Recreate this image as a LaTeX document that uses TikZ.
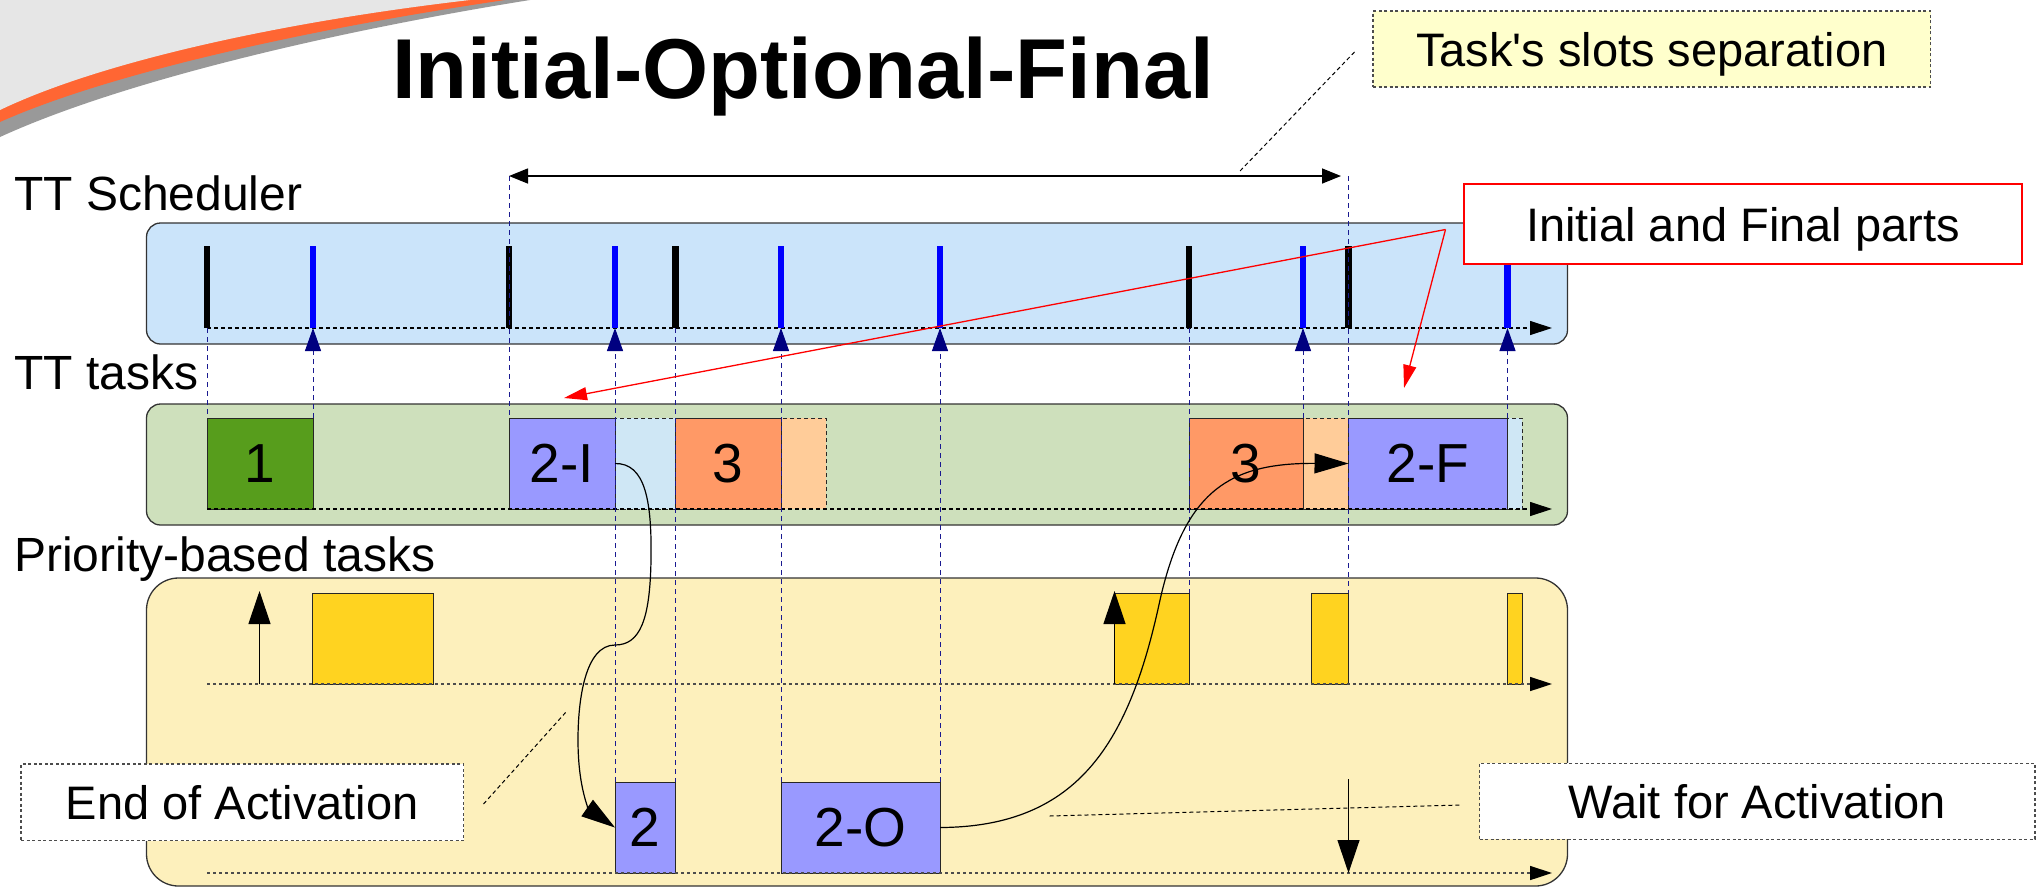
\documentclass[tikz,border=0pt]{standalone}
\usepackage{fontspec}
\setmainfont{Liberation Sans}[Ligatures=TeXOff]
\usetikzlibrary{arrows.meta}

\definecolor{schedbg}{HTML}{CBE4FA}
\definecolor{ttbg}{HTML}{CEE0BC}
\definecolor{priobg}{HTML}{FDF0BC}
\definecolor{taskgreen}{HTML}{579D1C}
\definecolor{tasklav}{HTML}{9999FF}
\definecolor{taskorange}{HTML}{FF9966}
\definecolor{slotorange}{HTML}{FFCC99}
\definecolor{slotblue}{HTML}{CFE7F5}
\definecolor{gold}{HTML}{FFD320}
\definecolor{notebg}{HTML}{FFFFCC}
\definecolor{swooshgray}{HTML}{E6E6E6}
\definecolor{swooshorange}{HTML}{FF6633}
\definecolor{swooshdark}{HTML}{999999}
\definecolor{tickblue}{HTML}{0000FF}
\definecolor{guide}{HTML}{1A1A90}
\definecolor{guidetip}{HTML}{000080}

\newcommand\tfTitle{\fontsize{85}{96}\selectfont\bfseries}
\newcommand\tfLane{\fontsize{48}{56}\selectfont}
\newcommand\tfNote{\fontsize{47}{54}\selectfont}
\newcommand\tfTask{\fontsize{55}{62}\selectfont}

\begin{document}
\begin{tikzpicture}[x=1pt,y=-1pt,
  lane/.style={draw=black!80, line width=1.3pt, inner sep=0pt, outer sep=0pt,
    anchor=north west, minimum width=1421pt, rounded corners=14pt},
  taskbox/.style={draw=black!85, line width=1pt, inner sep=0pt, outer sep=0pt,
    anchor=north west, minimum height=91pt, font=\tfTask},
  slotbox/.style={taskbox, dash pattern=on 4pt off 3pt},
  goldbox/.style={taskbox, fill=gold},
  notebox/.style={draw=black!70, line width=1.2pt, dash pattern=on 3pt off 2.5pt,
    inner sep=0pt, outer sep=0pt, anchor=north west, font=\tfNote, fill=white,
    text height=34pt, text depth=0pt},
  lanelabel/.style={anchor=base west, inner sep=0pt, font=\tfLane},
  axisline/.style={draw=black, line width=1.2pt, dash pattern=on 4pt off 3pt,
    -{Triangle[length=22pt,width=14pt]}},
  prioaxis/.style={draw=black!70, line width=1.5pt, dash pattern=on 3pt off 3pt,
    -{Triangle[length=22pt,width=14pt,color=black]}},
  blacktick/.style={draw=black, line width=6.5pt},
  bluetick/.style={draw=tickblue, line width=6.5pt},
  guideline/.style={draw=guide, line width=1pt, dash pattern=on 5pt off 4pt},
  guidearrow/.style={guideline, -{Triangle[length=23pt,width=16pt,color=guidetip]}},
  flow/.style={draw=black, line width=1.2pt, -{Triangle[length=34pt,width=20pt]}},
  bigarrow/.style={draw=black, line width=1.2pt, -{Triangle[length=33pt,width=22pt]}},
  leader/.style={draw=black, line width=1pt, dash pattern=on 4pt off 3pt},
  redarrow/.style={draw=red, line width=1.3pt, -{Triangle[length=23pt,width=13pt]}},
  slotspan/.style={draw=black, line width=1.5pt,
    {Triangle[length=19pt,width=15pt]}-{Triangle[length=19pt,width=15pt]}}
]
\useasboundingbox (0,0) rectangle (2037,887);

% corner swoosh
\fill[swooshdark] (0,0) -- (0,137) .. controls (120,82) and (330,32) .. (530,0) -- cycle;
\fill[swooshorange] (0,0) -- (0,122) .. controls (112,72) and (315,28) .. (505,0) -- cycle;
\fill[swooshgray] (0,0) -- (0,110) .. controls (100,62) and (280,22) .. (470,0) -- cycle;

% title and lane captions
\node[anchor=base, inner sep=0pt, font=\tfTitle] (title) at (803,98) {Initial-Optional-Final};
\node[lanelabel] (lblSched) at (14,210) {TT Scheduler};
\node[lanelabel] (lblTT) at (14,389) {TT tasks};
\node[lanelabel] (lblPrio) at (14,571) {Priority-based tasks};

% lanes
\node[lane, fill=schedbg, minimum height=121pt] (sched) at (146.5,223) {};
\node[lane, fill=ttbg, minimum height=121pt] (tt) at (146.5,404) {};
\node[lane, fill=priobg, minimum height=308pt, rounded corners=32pt] (prio) at (146.5,578) {};

% scheduler instants (bottom ends of the ticks)
\coordinate (kA) at (207,328);
\coordinate (kB) at (313,328);
\coordinate (kC) at (509,328);
\coordinate (kD) at (615,328);
\coordinate (kE) at (675.5,328);
\coordinate (kF) at (781,328);
\coordinate (kG) at (940,328);
\coordinate (kH) at (1189,328);
\coordinate (kI) at (1303,328);
\coordinate (kJ) at (1348.5,328);
\coordinate (kK) at (1507.5,328);

% time-triggered slots
\node[slotbox, fill=slotblue, minimum width=60.5pt] (rest2a) at (615,418) {};
\node[slotbox, fill=slotorange, minimum width=45pt] (rest3a) at (781,418) {};
\node[taskbox, fill=taskgreen, minimum width=106pt] (task1) at (207,418) {1};
\node[taskbox, fill=tasklav, minimum width=106pt] (task2i) at (509,418) {2-I};
\node[taskbox, fill=taskorange, minimum width=105.5pt] (task3a) at (675.5,418) {3};
\node[slotbox, fill=slotorange, minimum width=45.5pt] (rest3b) at (1303,418) {};
\node[slotbox, fill=slotblue, minimum width=14.5pt] (rest2b) at (1507.5,418) {};
\node[taskbox, fill=taskorange, minimum width=114pt] (task3b) at (1189,418) {3};
\node[taskbox, fill=tasklav, minimum width=159pt] (task2f) at (1348.5,418) {2-F};

% priority-based jobs
\node[goldbox, minimum width=121pt] (gold1) at (312.5,593) {};
\node[goldbox, minimum width=74.5pt] (gold2) at (1114.5,593) {};
\node[goldbox, minimum width=37.5pt] (gold3) at (1311,593) {};
\node[goldbox, minimum width=15.5pt] (gold4) at (1507,593) {};
\node[taskbox, fill=tasklav, minimum width=60.5pt] (job2) at (615,782) {2};
\node[taskbox, fill=tasklav, minimum width=159pt] (job2o) at (781,782) {2-O};

% time axes
\coordinate (schedEnd) at (1552,328);
\coordinate (ttEnd) at (1552,509);
\coordinate (prioStart) at (207,684);
\coordinate (prioEnd) at (1552,684);
\coordinate (waitStart) at (207,873);
\coordinate (waitEnd) at (1552,873);
\draw[axisline] (kA) -- (schedEnd);
\draw[axisline] (task1.south west) -- (ttEnd);
\draw[prioaxis] (prioStart) -- (prioEnd);
\draw[prioaxis] (waitStart) -- (waitEnd);

% scheduler ticks
\draw[blacktick] (kA) -- ++(0,-82);
\draw[bluetick] (kB) -- ++(0,-82);
\draw[blacktick] (kC) -- ++(0,-82);
\draw[bluetick] (kD) -- ++(0,-82);
\draw[blacktick] (kE) -- ++(0,-82);
\draw[bluetick] (kF) -- ++(0,-82);
\draw[bluetick] (kG) -- ++(0,-82);
\draw[blacktick] (kH) -- ++(0,-82);
\draw[bluetick] (kI) -- ++(0,-82);
\draw[blacktick] (kJ) -- ++(0,-82);
\draw[bluetick] (kK) -- ++(0,-82);

% guide lines between lanes
\coordinate (sepL) at (509,176);
\coordinate (sepR) at (1348.5,176);
\draw[guideline] (kA) -- (task1.north west);
\draw[guidearrow] (task1.north east) -- (kB);
\draw[guideline] (sepL) -- (task2i.north west);
\draw[guidearrow] (job2.north west) -- (kD);
\draw[guideline] (kE) -- (job2.north east);
\draw[guidearrow] (job2o.north west) -- (kF);
\draw[guidearrow] (job2o.north east) -- (kG);
\draw[guideline] (kH) -- (gold2.north east);
\draw[guidearrow] (task3b.north east) -- (kI);
\draw[guideline] (sepR) -- (gold3.north east);
\draw[guidearrow] (task2f.north east) -- (kK);

% slot separation span
\draw[slotspan, shorten >=7.5pt] (sepL) -- (sepR);

% activations in the priority lane
\coordinate (rel1) at (259.5,684);
\coordinate (rel1top) at (259.5,591);
\draw[bigarrow] (rel1) -- (rel1top);
\coordinate (rel2top) at (1114.5,591);
\draw[bigarrow] (gold2.south west) -- (rel2top);
\coordinate (waitTop) at (1348.5,779);
\coordinate (waitTip) at (1348.5,873);
\draw[bigarrow] (waitTop) -- (waitTip);

% control flow between parts of task 2
\draw[flow] (task2i.east) .. controls (645,463) and (652,500) .. (651,560)
  .. controls (650,620) and (640,645) .. (615,645)
  .. controls (585,645) and (578,700) .. (578,740)
  .. controls (578,790) and (590,810) .. (job2.west);
\draw[flow] (job2o.east) .. controls (1080,827) and (1130,740) .. (1160,600)
  .. controls (1185,490) and (1230,463) .. (task2f.west);

% notes
\node[notebox, fill=notebg, minimum width=557.5pt, minimum height=76pt] (slotnote) at (1373,11) {Task's slots separation};
\node[notebox, minimum width=442.5pt, minimum height=76.5pt] (endnote) at (21,764) {End of Activation};
\node[notebox, minimum width=555.5pt, minimum height=76pt] (waitnote) at (1479.5,763.3) {Wait for Activation};
\node[draw=red, line width=1.5pt, fill=white, inner sep=0pt, outer sep=0pt, anchor=north west,
  minimum width=558pt, minimum height=80pt, font=\tfNote, text height=34pt, text depth=0pt]
  (ifpnote) at (1464,184) {Initial and Final parts};

% note leaders
\coordinate (slotLeadA) at (1354.5,52);
\coordinate (slotLeadB) at (1240,171);
\draw[leader] (slotLeadA) -- (slotLeadB);
\coordinate (endLeadA) at (483.5,804);
\coordinate (endLeadB) at (566,712);
\draw[leader] (endLeadA) -- (endLeadB);
\coordinate (waitLeadA) at (1049.5,816);
\coordinate (waitLeadB) at (1461,805);
\draw[leader] (waitLeadA) -- (waitLeadB);

% pointers to the initial and final parts
\coordinate (ifpJoin) at (1445.5,229.5);
\coordinate (ifpI) at (564,398);
\coordinate (ifpF) at (1404,388);
\draw[redarrow] (ifpJoin) -- (ifpI);
\draw[redarrow] (ifpJoin) -- (ifpF);
\end{tikzpicture}
\end{document}
